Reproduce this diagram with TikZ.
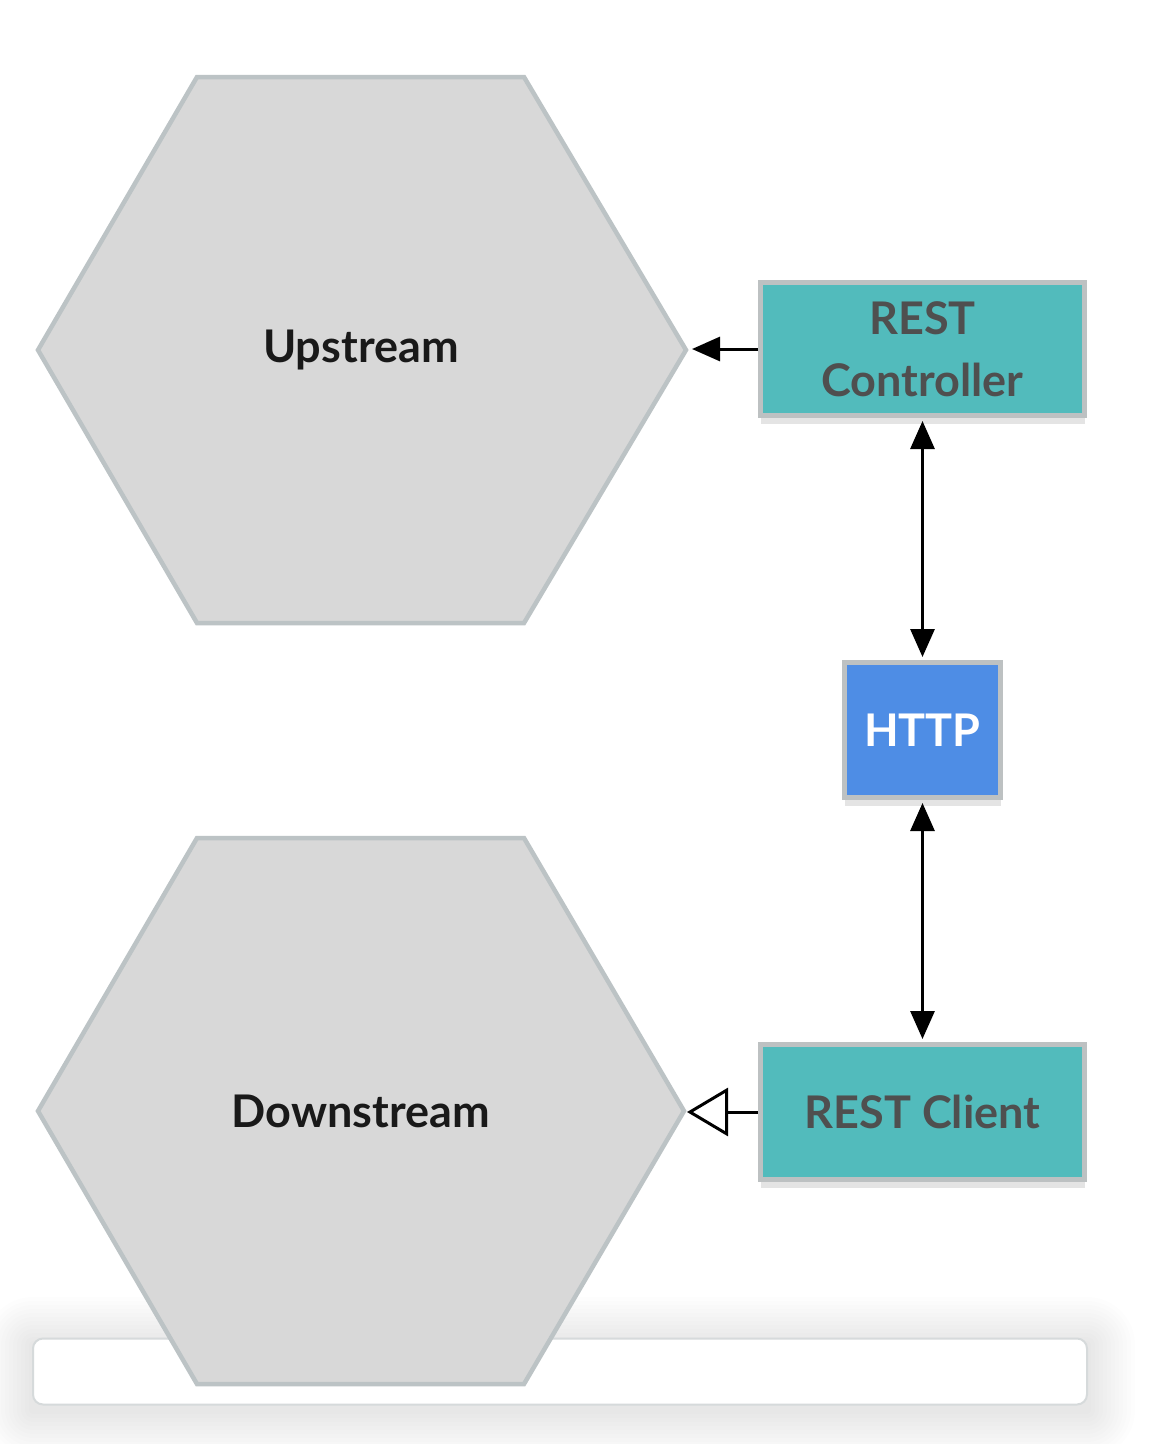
\documentclass[tikz,border=0pt]{standalone}
\usepackage{fontspec}
\setmainfont{Lato}
\usetikzlibrary{arrows.meta,shadows}
\definecolor{hexfill}{HTML}{D8D8D8}
\definecolor{hexline}{HTML}{BCC3C5}
\definecolor{teal}{HTML}{52BBBC}
\definecolor{httpblue}{HTML}{4E8DE5}
\definecolor{boxline}{HTML}{BDC1C2}
\definecolor{boxshadow}{HTML}{E4E4E4}
\definecolor{txtgray}{HTML}{4F4F4F}
\definecolor{panelline}{HTML}{D6DADB}
\tikzset{
  hexagon/.style={fill=hexfill,draw=hexline,line width=4.5pt,line join=miter},
  hexlabel/.style={font=\bfseries\fontsize{45}{52}\selectfont,text=black!90},
  box/.style={draw=boxline,line width=5pt,inner sep=0pt,align=center,
    font=\bfseries\fontsize{45}{62}\selectfont,
    drop shadow={shadow xshift=0pt,shadow yshift=-8pt,fill=boxshadow,opacity=1}},
  tealbox/.style={box,fill=teal,text=txtgray,minimum width=324pt},
  arr/.style={line width=3pt,-{Triangle[length=28pt,width=24pt]}},
  dblarr/.style={line width=3pt,{Triangle[length=28pt,width=24pt]}-{Triangle[length=28pt,width=24pt]},shorten <=3pt,shorten >=3pt},
  openarr/.style={line width=3pt,-{Triangle[open,length=41pt,width=48pt,fill=white]}},
  glow/.style={fill=black,fill opacity=0.006,rounded corners=#1}
}
\begin{document}
\begin{tikzpicture}[x=1pt,y=-1pt]
\useasboundingbox (0,0) rectangle (1156,1444);
\fill[white] (0,0) rectangle (1156,1444);
% soft glow behind bottom panel
\foreach \g in {48,44,...,4}{
  \fill[glow=\g pt] (33-\g,1339-\g+6) rectangle (1087+\g,1404+\g+6);
}
% bottom panel
\node[draw=panelline,fill=white,line width=2pt,rounded corners=10pt,
  minimum width=1054pt,minimum height=66pt,inner sep=0pt] (panel) at (560,1371.5) {};
% upper hexagon
\coordinate (u1) at (197,77);
\coordinate (u2) at (524,77);
\coordinate (u3) at (686,350);
\coordinate (u4) at (524,623);
\coordinate (u5) at (197,623);
\coordinate (u6) at (38,350);
\draw[hexagon] (u1) -- (u2) -- (u3) -- (u4) -- (u5) -- (u6) -- cycle;
\node[hexlabel] (up) at (361,350) {Upstream};
% lower hexagon
\coordinate (d1) at (197,838);
\coordinate (d2) at (524,838);
\coordinate (d3) at (684,1111);
\coordinate (d4) at (524,1384);
\coordinate (d5) at (197,1384);
\coordinate (d6) at (38,1111);
\draw[hexagon] (d1) -- (d2) -- (d3) -- (d4) -- (d5) -- (d6) -- cycle;
\node[hexlabel] (down) at (361,1111) {Downstream};
% boxes
\node[tealbox,minimum height=133pt] (ctrl) at (922.5,349) {REST\\Controller};
\node[box,fill=httpblue,text=white,minimum width=156pt,minimum height=135pt] (http) at (922.5,730) {HTTP};
\node[tealbox,minimum height=135pt] (cli) at (922.5,1112) {REST Client};
% connectors
\coordinate (uptip) at (692,349);
\coordinate (downtip) at (687,1112);
\draw[arr] (ctrl.west) -- (uptip);
\draw[dblarr] (ctrl.south) -- (http.north);
\draw[dblarr] (http.south) -- (cli.north);
\draw[openarr] (cli.west) -- (downtip);
\end{tikzpicture}
\end{document}
